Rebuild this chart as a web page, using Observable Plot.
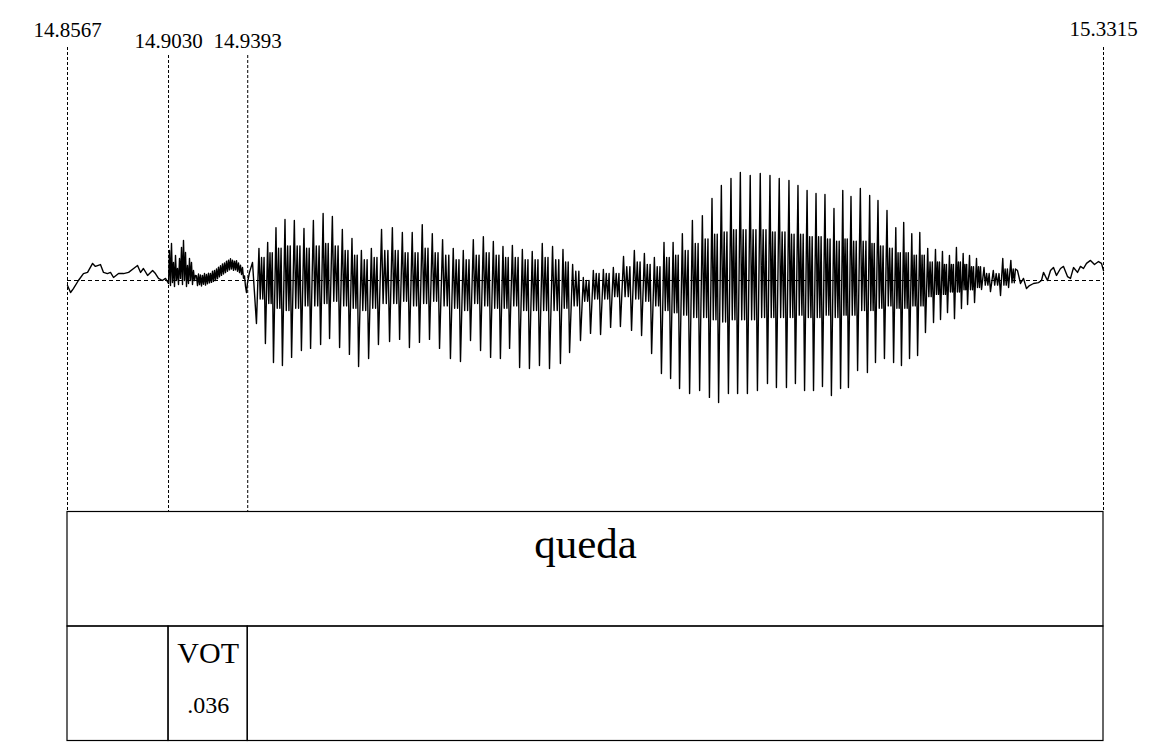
<!DOCTYPE html>
<html><head><meta charset="utf-8">
<script src="https://cdn.jsdelivr.net/npm/d3@7"></script>
<script src="https://cdn.jsdelivr.net/npm/@observablehq/plot@0.6"></script>
<style>
html,body{margin:0;padding:0;background:#fff;}
#chart svg{display:block;}
</style></head><body><div id="chart"></div>
<script>
// ---- time boundaries (s) ----
const boundaryTimes = [14.8567, 14.9030, 14.9393, 15.3315];
const boundaryLabels = ["14.8567", "14.9030", "14.9393", "15.3315"];

// ---- text grid tiers ----
const tier1Start = [14.8567];
const tier1End = [15.3315];
const tier1Text = ["queda"];
const tier2Start = [14.8567, 14.9030, 14.9393];
const tier2End = [14.9030, 14.9393, 15.3315];
const tier2Text = ["", "VOT", ""];
const tier2Note = ["", ".036", ""];

// ---- waveform: pre-voicing (silence, burst, aspiration) ----
const preT = [14.8567,14.8581,14.8594,14.8617,14.8640,14.8659,14.8682,14.8695,14.8718,14.8732,14.8750,14.8764,14.8778,14.8801,14.8824,14.8847,14.8870,14.8888,14.8902,14.8915,14.8934,14.8957,14.8970,14.8984,14.9002,14.9016,14.9030,
14.90345,14.90390,14.90436,14.90482,14.90528,14.90574,14.90620,14.90665,14.90711,14.90757,14.90803,14.90849,14.90895,14.90940,14.90986,14.91032,14.91078,14.91124,14.91170,14.91215,14.91261,14.91307,14.91353,14.91399,14.91445,14.91490,14.91536,
14.91582,14.91628,14.91674,14.91720,14.91765,14.91811,14.91857,14.91903,14.91949,14.91995,14.92040,14.92086,14.92132,14.92178,14.92224,14.92270,14.92315,14.92361,14.92407,14.92453,14.92499,14.92545,14.92590,14.92636,14.92682,14.92728,14.92774,14.92820,14.92865,14.92911,14.92957,14.93003,14.93049,14.93095,14.93140,14.93186,14.93232,14.93278,14.93324,14.93370,14.93415,14.93461,14.93507,14.93553,14.93599,14.93645,14.93690,14.93736,14.93782,14.93828,14.93874,14.93920,
14.94011,14.94149];
const preA = [-0.022,-0.052,-0.035,0,0.030,0.035,0.074,0.061,0.069,0.035,0.030,0.035,0.013,0.030,0.030,0.035,0.052,0.065,0.035,0.052,0.022,0.043,0.030,0.009,0,0.009,-0.013,
0.130,-0.022,0.160,-0.009,0.078,-0.026,0.108,0,0.052,-0.017,0.095,0.009,0.143,-0.017,0.173,0,0.121,-0.026,0.065,-0.013,0.095,0,0.078,-0.017,0.043,0,0.022,
0.020,-0.022,0.028,-0.018,0.024,-0.024,0.022,-0.016,0.030,-0.020,0.026,-0.014,0.032,-0.010,0.030,-0.008,0.040,-0.004,0.044,0.000,0.050,0.008,0.058,0.016,0.064,0.022,0.072,0.028,0.076,0.034,0.084,0.040,0.088,0.046,0.094,0.050,0.088,0.044,0.084,0.046,0.086,0.040,0.076,0.034,0.066,0.026,0.056,0.010,0.020,-0.026,-0.052,-0.009,
0.035,0.078];

// ---- waveform: voiced glottal cycles (trough time, trough, peak, inner ripple low/high) ----
const cycT = [14.9433,14.9474,14.9511,14.9552,14.9594,14.9639,14.9681,14.9727,14.9768,14.9814,
14.9859,14.9901,14.9947,14.9992,15.0043,15.0089,15.0134,15.0180,15.0226,15.0272,
15.0322,15.0368,15.0414,15.0460,15.0506,15.0551,15.0593,15.0639,15.0684,15.0730,
15.0776,15.0826,15.0868,15.0918,15.0964,15.1010,15.1056,15.1101,15.1152,15.1198,
15.1244,15.1289,15.1331,15.1372,15.1418,15.1464,15.1509,15.1551,15.1596,15.1638,
15.1683,15.1729,15.1775,15.1816,15.1862,15.1903,15.1945,15.1986,15.2027,15.2068,
15.2110,15.2146,15.2188,15.2233,15.2270,15.2311,15.2353,15.2389,15.2426,15.2463,
15.2499,15.2536,15.2568,15.2600,15.2632,15.2664,15.2692,15.2724,15.2756,15.2797,
15.2843,15.2880];
const cycMin = [-0.186,-0.273,-0.355,-0.368,-0.333,-0.303,-0.294,-0.277,-0.251,-0.290,
-0.320,-0.372,-0.338,-0.277,-0.264,-0.255,-0.290,-0.268,-0.255,-0.294,
-0.338,-0.351,-0.260,-0.303,-0.333,-0.338,-0.294,-0.377,-0.381,-0.368,
-0.381,-0.359,-0.312,-0.260,-0.229,-0.234,-0.203,-0.199,-0.216,-0.238,
-0.316,-0.403,-0.424,-0.468,-0.489,-0.476,-0.506,-0.528,-0.489,-0.489,
-0.489,-0.476,-0.446,-0.463,-0.463,-0.446,-0.476,-0.476,-0.459,-0.498,
-0.468,-0.463,-0.390,-0.398,-0.355,-0.338,-0.355,-0.368,-0.338,-0.325,
-0.225,-0.182,-0.169,-0.139,-0.165,-0.121,-0.104,-0.095,-0.039,-0.048,
-0.065,-0.030];
const cycMax = [0.139,0.165,0.229,0.264,0.260,0.225,0.260,0.290,0.277,0.221,
0.182,0.130,0.139,0.221,0.229,0.208,0.208,0.242,0.203,0.177,
0.139,0.130,0.177,0.190,0.169,0.147,0.152,0.134,0.126,0.160,
0.147,0.134,0.069,0.013,0.043,0.048,0.056,0.104,0.130,0.117,
0.100,0.165,0.165,0.203,0.260,0.281,0.355,0.411,0.442,0.468,
0.455,0.463,0.455,0.442,0.433,0.411,0.390,0.377,0.372,0.312,
0.390,0.364,0.398,0.368,0.346,0.303,0.229,0.251,0.203,0.208,
0.139,0.134,0.126,0.108,0.143,0.117,0.108,0.095,0.056,0.043,
0.095,0.087];
const cycHi = [0.10,0.12,0.14,0.15,0.15,0.14,0.15,0.16,0.15,0.13,
0.11,0.09,0.10,0.13,0.13,0.12,0.12,0.14,0.12,0.11,
0.09,0.09,0.11,0.12,0.11,0.10,0.10,0.09,0.09,0.10,
0.09,0.08,0.04,0.00,0.03,0.03,0.03,0.06,0.08,0.07,
0.06,0.10,0.11,0.13,0.16,0.18,0.20,0.21,0.22,0.22,
0.22,0.22,0.21,0.21,0.20,0.20,0.19,0.19,0.18,0.17,
0.18,0.17,0.17,0.16,0.15,0.14,0.12,0.12,0.11,0.11,
0.08,0.08,0.07,0.07,0.08,0.07,0.06,0.06,0.03,0.03,
0.05,0.05];
const cycLo = [-0.08,-0.10,-0.12,-0.13,-0.12,-0.11,-0.11,-0.10,-0.09,-0.11,
-0.12,-0.13,-0.12,-0.10,-0.10,-0.09,-0.11,-0.10,-0.09,-0.11,
-0.12,-0.13,-0.10,-0.11,-0.12,-0.12,-0.11,-0.13,-0.13,-0.13,
-0.13,-0.12,-0.11,-0.09,-0.08,-0.08,-0.07,-0.07,-0.08,-0.09,
-0.11,-0.13,-0.14,-0.15,-0.16,-0.16,-0.17,-0.18,-0.17,-0.17,
-0.17,-0.16,-0.16,-0.16,-0.16,-0.15,-0.16,-0.16,-0.15,-0.16,
-0.15,-0.15,-0.13,-0.13,-0.12,-0.11,-0.12,-0.12,-0.11,-0.11,
-0.07,-0.06,-0.06,-0.05,-0.05,-0.04,-0.04,-0.03,-0.02,-0.02,
-0.02,-0.01];

// ---- waveform: final fade ----
const endT = [15.29209,15.29346,15.29483,15.29621,15.29758,15.29942,15.30171,15.30308,15.30400,15.30583,15.30721,15.30858,15.30996,15.31179,15.31317,15.31500,15.31637,15.31775,15.31958,15.32096,15.32233,15.32371,15.32554,15.32737,15.32921,15.33058,15.3315];
const endA = [0.043,-0.013,0.009,-0.035,-0.022,-0.013,-0.009,0,0.035,0,0.043,0.056,0.022,0.052,0.061,0.017,0.009,0.056,0.035,0.061,0.052,0.074,0.087,0.069,0.082,0.074,0.043];

// ---- build waveform table ----
const wave = [];
preT.forEach((t, i) => wave.push({t, a: preA[i]}));
cycT.forEach((t, i) => {
  const P = i < cycT.length - 1 ? cycT[i + 1] - t : t - cycT[i - 1];
  wave.push({t, a: cycMin[i]});
  wave.push({t: t + 0.28 * P, a: cycMax[i]});
  wave.push({t: t + 0.42 * P, a: cycLo[i]});
  wave.push({t: t + 0.57 * P, a: cycHi[i]});
  wave.push({t: t + 0.71 * P, a: cycLo[i]});
  wave.push({t: t + 0.85 * P, a: cycHi[i]});
});
endT.forEach((t, i) => wave.push({t, a: endA[i]}));

const bounds = boundaryTimes.map((t, i) => ({t, label: boundaryLabels[i]}));
const first = [bounds[0]];
const last = [bounds[bounds.length - 1]];
const outer = [bounds[0], bounds[bounds.length - 1]];
const inner = bounds.slice(1, -1);

const xDomain = [boundaryTimes[0], boundaryTimes[boundaryTimes.length - 1]];
const font = "'Liberation Serif', 'Times New Roman', serif";

const wavePlot = Plot.plot({
  width: 1156, height: 511,
  marginLeft: 67, marginRight: 53, marginTop: 0, marginBottom: 0,
  x: {domain: xDomain, axis: null},
  y: {domain: [-1, 1], range: [511, 49], axis: null},
  style: {fontFamily: font, color: "black", background: "white", overflow: "visible"},
  marks: [
    Plot.ruleX(outer, {x: "t", insetTop: 47, stroke: "black", strokeWidth: 1, strokeDasharray: "3,2"}),
    Plot.ruleX(inner, {x: "t", insetTop: 55, stroke: "black", strokeWidth: 1, strokeDasharray: "3,2"}),
    Plot.ruleY([0], {stroke: "black", strokeWidth: 1, strokeDasharray: "4,3"}),
    Plot.line(wave, {x: "t", y: "a", stroke: "black", strokeWidth: 1.4}),
    Plot.text(first, {x: "t", text: "label", frameAnchor: "top", lineAnchor: "bottom", dy: 36, fontSize: 21, fill: "black"}),
    Plot.text(last, {x: "t", text: "label", frameAnchor: "top", lineAnchor: "bottom", dy: 35, fontSize: 21, fill: "black"}),
    Plot.text(inner, {x: "t", text: "label", frameAnchor: "top", lineAnchor: "bottom", dy: 47, fontSize: 21, fill: "black"})
  ]
});

const tier1 = tier1Start.map((s, i) => ({x1: s, x2: tier1End[i], y1: 0, y2: 1, text: tier1Text[i], mid: (s + tier1End[i]) / 2}));
const tier2 = tier2Start.map((s, i) => ({x1: s, x2: tier2End[i], y1: 1, y2: 2, text: tier2Text[i], note: tier2Note[i], mid: (s + tier2End[i]) / 2}));

const gridPlot = Plot.plot({
  width: 1156, height: 235,
  marginLeft: 67, marginRight: 53, marginTop: 0, marginBottom: 5,
  x: {domain: xDomain, axis: null},
  y: {domain: [0, 2], range: [0.5, 229.5], axis: null},
  style: {fontFamily: font, color: "black", background: "white", overflow: "visible"},
  marks: [
    Plot.rect(tier1, {x1: "x1", x2: "x2", y1: "y1", y2: "y2", fill: "none", stroke: "black", strokeWidth: 1.2}),
    Plot.rect(tier2, {x1: "x1", x2: "x2", y1: "y1", y2: "y2", fill: "none", stroke: "black", strokeWidth: 1.2}),
    Plot.text(tier1, {x: "mid", y: "y1", text: "text", lineAnchor: "bottom", dy: 46, fontSize: 43, fill: "black"}),
    Plot.text(tier2, {x: "mid", y: "y1", text: "text", lineAnchor: "bottom", dy: 36, fontSize: 30, fill: "black"}),
    Plot.text(tier2, {x: "mid", y: "y1", text: "note", lineAnchor: "bottom", dy: 86, fontSize: 24, fill: "black"})
  ]
});

const root = document.getElementById("chart");
root.appendChild(wavePlot);
root.appendChild(gridPlot);
</script>
</body></html>
